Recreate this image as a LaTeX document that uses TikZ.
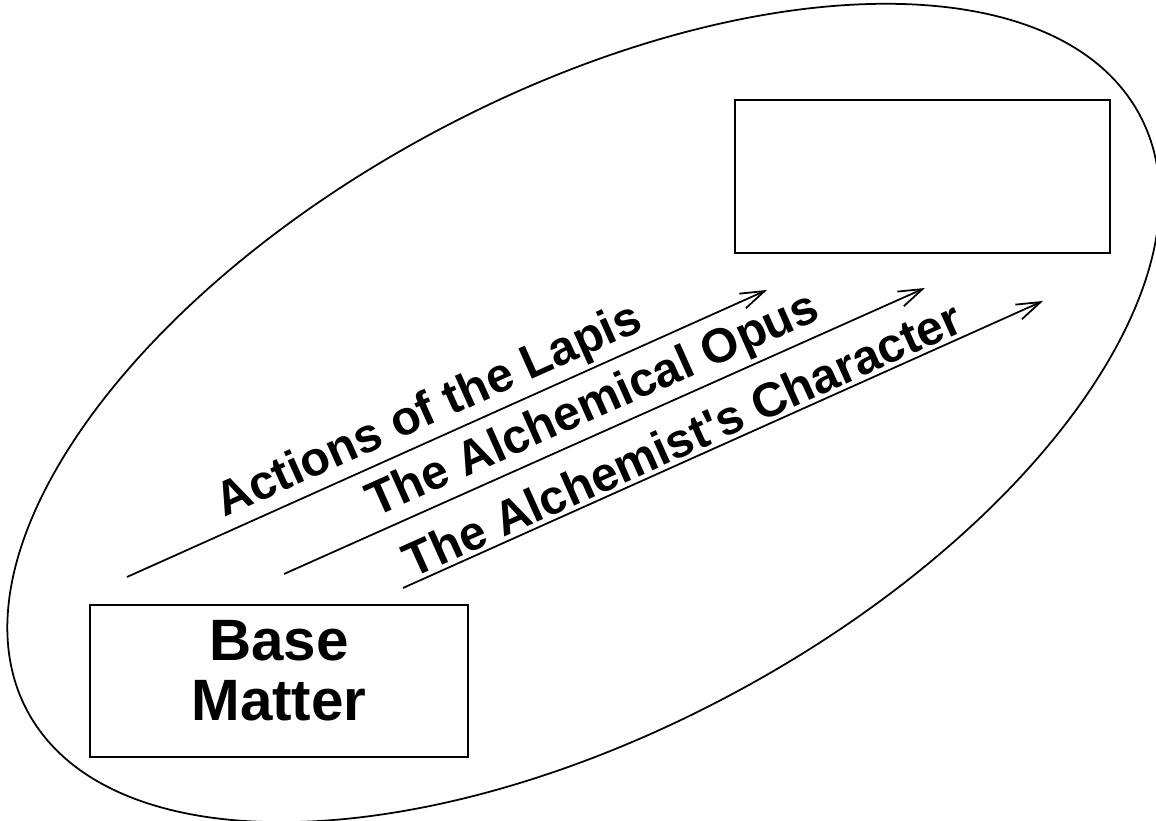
\documentclass[tikz,border=0pt]{standalone}
\usepackage{fontspec}
\setmainfont{Liberation Sans}
\usetikzlibrary{arrows.meta}
\tikzset{
  box/.style={rectangle, draw, line width=0.6pt, inner sep=0pt},
  arr/.style={-{Straight Barb[length=2.4mm, width=1.6mm]}, line width=0.5pt},
  lbl/.style={font=\bfseries\fontsize{13.7}{15}\selectfont, sloped, above, inner sep=1pt},
  big/.style={font=\bfseries\fontsize{16.6}{17}\selectfont, align=center, inner sep=0pt}
}
\begin{document}
\begin{tikzpicture}
\useasboundingbox (0,0) rectangle (11.56,8.21);
% outer loop
\draw[line width=0.5pt, rotate around={28.2:(5.835,4.08)}] (5.835,4.08) ellipse [x radius=6.31, y radius=3.18];

\node[box, minimum width=3.78cm, minimum height=1.52cm] (base) at (2.79,1.40) {};
\node[big] (basetxt) at ([yshift=1mm]base.center) {Base\\Matter};
\node[box, minimum width=3.75cm, minimum height=1.53cm] (stone) at (9.225,6.445) {};

% arrow ends
\coordinate (lapisS) at (1.27,2.44); \coordinate (lapisE) at (7.67,5.31);
\coordinate (opusS) at (2.84,2.47);  \coordinate (opusE) at (9.25,5.33);
\coordinate (charS) at (4.03,2.33);  \coordinate (charE) at (10.43,5.20);

\draw[arr] (lapisS) -- node[lbl, pos=0.49] (lapis) {Actions of the Lapis} (lapisE);
\draw[arr] (opusS) -- node[lbl, pos=0.50] (opus) {The Alchemical Opus} (opusE);
\draw[arr] (charS) -- node[lbl, pos=0.45] (char) {The Alchemist\textquotesingle s Character} (charE);
\end{tikzpicture}
\end{document}
